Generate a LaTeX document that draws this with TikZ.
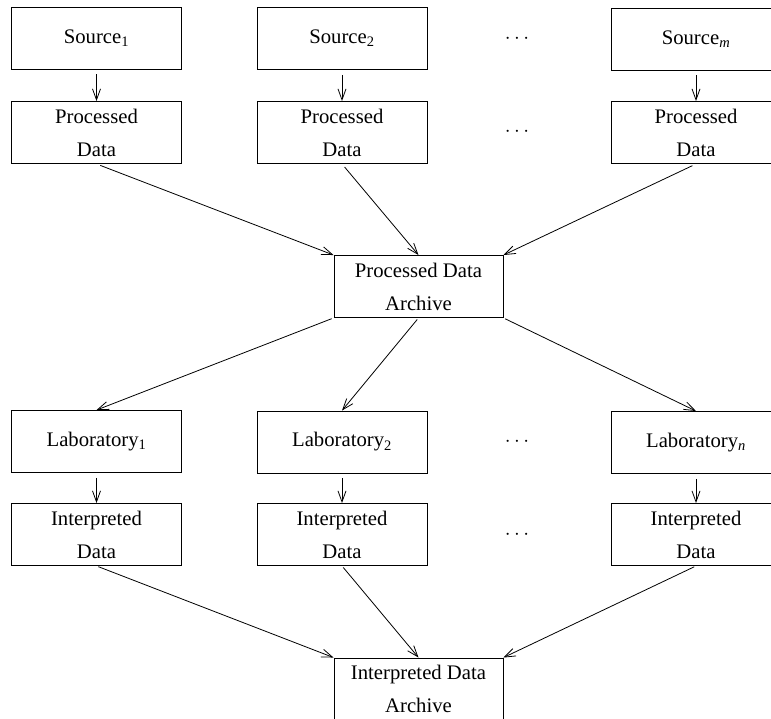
\documentclass[tikz,border=0pt]{standalone}
\usepackage{fontspec}
\setmainfont{Liberation Serif}
\usetikzlibrary{arrows.meta}
\begin{document}
\begin{tikzpicture}[x=1pt,y=-1pt,
  box/.style={draw,line width=0.9pt,minimum width=170pt,minimum height=62pt,inner sep=0pt,align=center,
    font=\fontsize{20.7}{33}\selectfont},
  arch/.style={box,minimum width=169pt},
  dotsnode/.style={inner sep=0pt,font=\fontsize{20.7}{33}\selectfont},
  conn/.style={line width=0.8pt,-{Straight Barb[length=11pt,width=8pt,line width=0.8pt]}}
]
\useasboundingbox (0,0) rectangle (771,719);
% row 1
\node[box] (s1) at (96.5,38) {Source\textsubscript{1}};
\node[box] (s2) at (342,38.5) {Source\textsubscript{2}};
\node[box] (sm) at (696,39) {Source\textsubscript{\textit{m}}};
\node[dotsnode] (d1) at (517,38.5) {$\cdots$};
% row 2
\node[box] (p1) at (96.5,132.5) {Processed\\Data};
\node[box] (p2) at (342,132.5) {Processed\\Data};
\node[box] (pm) at (696,132.5) {Processed\\Data};
\node[dotsnode] (d2) at (517,131.5) {$\cdots$};
% archive
\node[arch] (a) at (418.5,286.5) {Processed Data\\Archive};
% labs
\node[box] (l1) at (96.5,441.5) {Laboratory\textsubscript{1}};
\node[box] (l2) at (342,442) {Laboratory\textsubscript{2}};
\node[box] (ln) at (696,442.5) {Laboratory\textsubscript{\textit{n}}};
\node[dotsnode] (d3) at (517,441.5) {$\cdots$};
% interpreted
\node[box] (i1) at (96.5,534.5) {Interpreted\\Data};
\node[box] (i2) at (342,534.5) {Interpreted\\Data};
\node[box] (in) at (696,534.5) {Interpreted\\Data};
\node[dotsnode] (d4) at (517,534.5) {$\cdots$};
% interpreted archive
\node[arch] (ia) at (418.5,689) {Interpreted Data\\Archive};
% connectors
\draw[conn,shorten <=5pt] (s1.south) -- (p1.north);
\draw[conn,shorten <=5pt] (s2.south) -- (p2.north);
\draw[conn,shorten <=5pt] (sm.south) -- (pm.north);
\draw[conn,shorten <=4pt] (p1.south) -- (a.north west);
\draw[conn,shorten <=4pt] (p2.south) -- (a.north);
\draw[conn,shorten <=4pt] (pm.south) -- (a.north east);
\draw[conn,shorten <=2pt] (a.south west) -- (l1.north);
\draw[conn,shorten <=2pt] (a.south) -- (l2.north);
\draw[conn,shorten <=2pt] (a.south east) -- (ln.north);
\draw[conn,shorten <=5pt] (l1.south) -- (i1.north);
\draw[conn,shorten <=5pt] (l2.south) -- (i2.north);
\draw[conn,shorten <=5pt] (ln.south) -- (in.north);
\draw[conn,shorten <=2pt] (i1.south) -- (ia.north west);
\draw[conn,shorten <=2pt] (i2.south) -- (ia.north);
\draw[conn,shorten <=2pt] (in.south) -- (ia.north east);
\end{tikzpicture}
\end{document}
